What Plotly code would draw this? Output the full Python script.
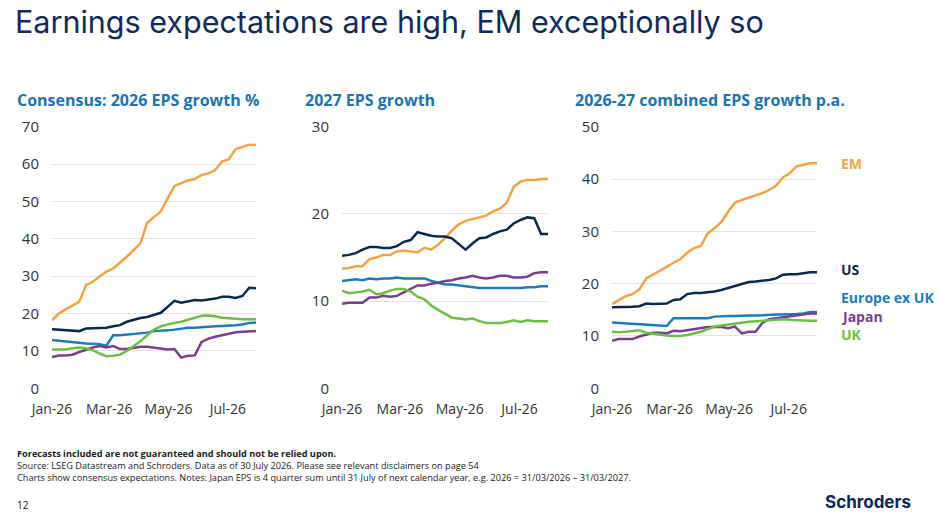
import pandas as pd
import plotly.graph_objects as go

# weekly observations, Jan to end of July 2026
dates = pd.date_range("2026-01-01", periods=31, freq="7D")

# Consensus: 2026 EPS growth %
em_2026 = [18.2, 20.0, 21.1, 22.0, 23.1, 27.6, 28.5, 29.9, 31.2, 32.1, 33.6, 35.2, 37.0, 38.8, 44.3, 45.7,
           47.3, 50.8, 54.1, 54.9, 55.6, 56.0, 57.1, 57.5, 58.4, 60.7, 61.3, 64.0, 64.7, 65.2, 65.1]
us_2026 = [15.8, 15.7, 15.5, 15.4, 15.3, 16.0, 16.0, 16.0, 16.2, 16.6, 16.9, 17.8, 18.4, 18.8, 19.1, 19.6,
           20.2, 21.8, 23.4, 22.9, 23.2, 23.6, 23.5, 23.7, 24.0, 24.5, 24.5, 24.2, 24.7, 26.9, 26.8]
eu_2026 = [12.9, 12.7, 12.5, 12.3, 12.1, 12.0, 11.9, 11.8, 11.4, 14.2, 14.2, 14.4, 14.6, 14.9, 14.9, 15.3,
           15.5, 15.5, 15.7, 16.0, 16.2, 16.2, 16.4, 16.6, 16.6, 16.7, 16.7, 16.9, 17.1, 17.5, 17.6]
jp_2026 = [8.4, 8.8, 8.8, 9.0, 9.7, 10.4, 10.9, 11.3, 10.9, 11.3, 10.5, 10.5, 10.8, 11.1, 11.1, 10.9,
           10.8, 10.4, 10.5, 8.2, 8.7, 8.8, 12.4, 13.3, 13.8, 14.2, 14.6, 15.0, 15.1, 15.3, 15.3]
uk_2026 = [10.4, 10.4, 10.4, 10.7, 10.9, 10.7, 10.2, 9.3, 8.6, 8.7, 9.0, 10.0, 11.3, 12.6, 14.2, 15.7,
           16.6, 17.1, 17.5, 17.8, 18.4, 18.9, 19.4, 19.5, 19.3, 18.9, 18.7, 18.6, 18.5, 18.5, 18.5]

# 2027 EPS growth
em_2027 = [13.7, 13.8, 14.0, 14.0, 14.8, 15.0, 15.3, 15.3, 15.7, 15.8, 15.7, 15.6, 16.1, 15.9, 16.5, 17.2,
           18.1, 18.8, 19.2, 19.4, 19.6, 19.8, 20.3, 20.6, 21.3, 23.1, 23.7, 23.9, 23.9, 24.0, 24.0]
us_2027 = [15.2, 15.3, 15.5, 15.9, 16.2, 16.2, 16.1, 16.1, 16.3, 16.8, 17.0, 17.9, 17.7, 17.5, 17.4, 17.4,
           17.2, 16.5, 15.9, 16.6, 17.2, 17.3, 17.7, 18.0, 18.2, 18.9, 19.3, 19.6, 19.5, 17.7, 17.7]
eu_2027 = [12.3, 12.4, 12.5, 12.4, 12.6, 12.5, 12.6, 12.6, 12.7, 12.6, 12.6, 12.6, 12.6, 12.3, 12.1, 11.9,
           11.9, 11.8, 11.7, 11.6, 11.5, 11.5, 11.5, 11.5, 11.5, 11.5, 11.5, 11.6, 11.6, 11.7, 11.7]
jp_2027 = [9.7, 9.8, 9.8, 9.8, 10.4, 10.4, 10.6, 10.5, 10.6, 11.0, 11.4, 11.8, 11.8, 12.0, 12.1, 12.3,
           12.4, 12.6, 12.7, 12.9, 12.7, 12.6, 12.7, 12.9, 12.9, 12.7, 12.7, 12.8, 13.2, 13.3, 13.3]
uk_2027 = [11.2, 10.9, 11.0, 11.1, 11.3, 10.8, 10.9, 11.2, 11.4, 11.4, 11.1, 10.5, 10.2, 9.5, 9.0, 8.5,
           8.1, 8.0, 7.9, 8.0, 7.7, 7.5, 7.5, 7.5, 7.6, 7.8, 7.6, 7.8, 7.7, 7.7, 7.7]

# 2026-27 combined EPS growth p.a.
em_comb = [16.1, 16.9, 17.6, 18.0, 18.9, 21.0, 21.7, 22.5, 23.2, 24.0, 24.7, 25.9, 26.8, 27.2, 29.6, 30.6,
           31.8, 33.8, 35.5, 36.0, 36.4, 36.8, 37.3, 37.9, 38.7, 40.3, 41.1, 42.4, 42.7, 43.0, 43.0]
us_comb = [15.5, 15.5, 15.5, 15.6, 15.7, 16.2, 16.1, 16.1, 16.2, 16.9, 17.0, 18.0, 18.2, 18.2, 18.3, 18.5,
           18.8, 19.2, 19.6, 19.9, 20.3, 20.4, 20.5, 20.7, 21.0, 21.7, 21.8, 21.8, 22.0, 22.2, 22.2]
eu_comb = [12.6, 12.5, 12.4, 12.3, 12.2, 12.1, 12.1, 12.0, 11.9, 13.4, 13.4, 13.4, 13.5, 13.5, 13.4, 13.7,
           13.8, 13.8, 13.8, 13.9, 13.9, 13.9, 14.0, 14.1, 14.1, 14.1, 14.1, 14.2, 14.3, 14.6, 14.6]
jp_comb = [9.1, 9.4, 9.4, 9.4, 9.9, 10.3, 10.6, 10.6, 10.5, 11.0, 10.9, 11.1, 11.3, 11.5, 11.7, 11.7,
           11.7, 11.5, 11.8, 10.5, 10.8, 10.8, 12.5, 13.2, 13.4, 13.6, 13.8, 13.9, 14.1, 14.3, 14.3]
uk_comb = [10.8, 10.7, 10.8, 11.0, 11.1, 10.6, 10.4, 10.3, 10.1, 10.0, 10.0, 10.2, 10.5, 10.8, 11.3, 11.8,
           12.0, 12.2, 12.4, 12.5, 12.7, 12.8, 12.9, 13.1, 13.2, 13.2, 13.1, 13.0, 12.9, 12.9, 12.9]

regions = ["EM", "US", "Europe ex UK", "Japan", "UK"]
colors = {"EM": "#F5A243", "US": "#0C2850", "Europe ex UK": "#1B7CBD", "Japan": "#7A3E8E", "UK": "#6DBE45"}

panels = [
    ("Consensus: 2026 EPS growth %", [em_2026, us_2026, eu_2026, jp_2026, uk_2026], 70),
    ("2027 EPS growth", [em_2027, us_2027, eu_2027, jp_2027, uk_2027], 30),
    ("2026-27 combined EPS growth p.a.", [em_comb, us_comb, eu_comb, jp_comb, uk_comb], 50),
]

W, H = 939, 516


def px(x):
    return x / W


def py(y):
    return 1 - y / H


# plot area in pixels (left, right) per panel, common top/bottom
xdom_px = [(52, 256), (342, 548), (612, 817)]
top_px, bot_px = 126.7, 388.3
title_x_px = [15, 303, 573]

fig = go.Figure()
annotations = []
for i, (ptitle, series, ymax) in enumerate(panels):
    n = "" if i == 0 else str(i + 1)
    for reg, vals in zip(regions, series):
        fig.add_trace(go.Scatter(
            x=dates, y=vals, mode="lines", name=reg,
            line=dict(color=colors[reg], width=2.5),
            xaxis="x" + n, yaxis="y" + n, showlegend=False,
        ))
    l, r = xdom_px[i]
    fig.update_layout({
        "xaxis" + n: dict(
            domain=[px(l), px(r)], anchor="y" + n, automargin=False,
            range=["2026-01-01", "2026-07-30"],
            tick0="2026-01-01", dtick="M2", tickformat="%b-%y",
            showgrid=False, showline=False, ticks="", zeroline=False,
            tickfont=dict(family="Open Sans", size=14, color="#333333"),
            ticklabelstandoff=11,
        ),
        "yaxis" + n: dict(
            domain=[py(bot_px), py(top_px)], anchor="x" + n, automargin=False,
            range=[0, ymax], dtick=10, showgrid=True, gridcolor="#E3E3E3", gridwidth=1,
            zeroline=False, showline=False, ticks="",
            tickfont=dict(family="Open Sans", size=15, color="#333333"),
            ticklabelstandoff=12,
        ),
    })
    annotations.append(dict(
        xref="paper", yref="paper", x=px(title_x_px[i]), y=py(100),
        xanchor="left", yanchor="middle", showarrow=False, text="<b>" + ptitle + "</b>",
        font=dict(family="Open Sans", size=16, color="#1C73B1"),
    ))

# series labels next to the last panel, at the reference's vertical positions
label_y = {"EM": 163, "US": 269, "Europe ex UK": 297, "Japan": 316, "UK": 334}
for reg in regions:
    annotations.append(dict(
        xref="paper", yref="paper", x=px(839), y=py(label_y[reg]), xanchor="left", yanchor="middle",
        showarrow=False, text="<b>" + reg + "</b>",
        font=dict(family="Open Sans", size=14, color=colors[reg]),
    ))

footer = (
    "<b>Forecasts included are not guaranteed and should not be relied upon.</b><br>"
    "Source: LSEG Datastream and Schroders. Data as of 30 July 2026. Please see relevant disclaimers on page 54<br>"
    "Charts show consensus expectations. Notes: Japan EPS is 4 quarter sum until 31 July of next calendar year, "
    "e.g. 2026 = 31/03/2026 \u2013 31/03/2027."
)
annotations.append(dict(
    xref="paper", yref="paper", x=px(15), y=py(465), xanchor="left", yanchor="middle", align="left",
    showarrow=False, text=footer,
    font=dict(family="Liberation Sans Narrow, Arial Narrow, Open Sans", size=9.2, color="#222222"),
))
annotations.append(dict(
    xref="paper", yref="paper", x=px(15), y=py(505), xanchor="left", yanchor="middle",
    showarrow=False, text="12", font=dict(family="Open Sans", size=10, color="#222222"),
))
annotations.append(dict(
    xref="paper", yref="paper", x=px(913), y=py(502), xanchor="right", yanchor="middle",
    showarrow=False, text="<b>Schroders</b>", font=dict(family="Inter", size=17, color="#0C2850"),
))
annotations.append(dict(
    xref="paper", yref="paper", x=px(13), y=py(22), xanchor="left", yanchor="middle",
    showarrow=False, text="Earnings expectations are high, EM exceptionally so",
    font=dict(family="Inter", size=30.5, color="#0F2B5B"),
))

fig.update_layout(
    width=W, height=H, margin=dict(l=0, r=0, t=0, b=0),
    plot_bgcolor="white", paper_bgcolor="white",
    annotations=annotations, showlegend=False,
)

# drop the browser's default page margin so the figure fills the window
fig.write_html(
    "out.html",
    config={"displayModeBar": False},
    post_script="document.body.style.margin = '0px';",
)
